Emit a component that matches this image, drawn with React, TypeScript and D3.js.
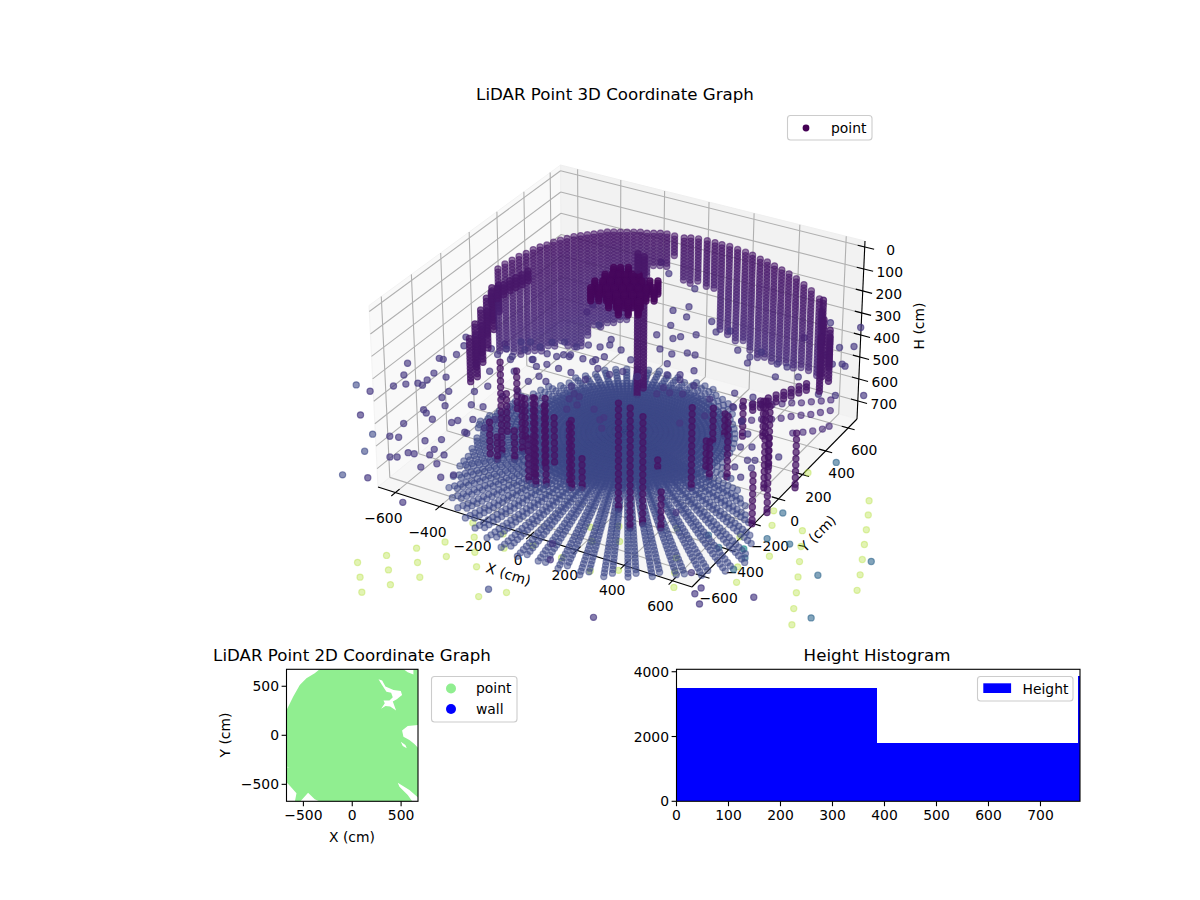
import React from "react";
import * as d3 from "d3";

// LiDAR scan, values. The scan is kept the way the
// instrument lays it out: wall columns and floor rays share typed row/ring lists,
// so the dense parts are an estimate of the pattern, not each individual dot.

const scanRows = [30, 45, 60, 75, 90, 105, 120, 135, 150, 165, 180, 195, 210, 225, 240, 255, 270, 285, 300, 315, 330, 345, 360, 375, 390, 405, 420, 435, 450, 465, 480, 495, 510, 525, 540, 555, 570, 585, 600, 615, 630, 645, 660, 675, 690, 705];
const strandRows = [40, 68, 96, 124, 152, 180, 208, 236, 264, 292, 320, 348, 376, 404, 432, 460, 488, 516, 544, 572, 600, 628, 656, 684, 700];

// [x, y, lowest H] of each wall column, top of the wall is at H 120
const wallColumns = [
  [-565, 19, 500], [-563, 67, 520], [-556, 108, 553], [-549, 148, 582], [-538, 183, 572], [-531, 224, 591], [-520, 257, 606], [-505, 284, 591], [-495, 318, 606], [-480, 345, 591], [-465, 371, 615], [-450, 398, 634], [-431, 418, 630], [-412, 438, 596], [-393, 457, 553], [-374, 477, 558], [-355, 497, 553], [-333, 510, 553], [-310, 522, 539], [-287, 535, 525], [-264, 548, 468], [-241, 561, 420], [-214, 566, 320], [-191, 579, 282], [-168, 592, 272], [-141, 598, 277], [-107, 598, 210], [-66, 602, 320], [-43, 615, 344], [-13, 623, 325], [25, 625, 330], [59, 626, 330], [91, 624, 510], [125, 625, 525], [164, 618, 549], [202, 612, 534], [237, 604, 568], [279, 589, 572], [314, 581, 558], [353, 566, 563], [393, 550, 544], [432, 535, 525], [475, 513, 525], [522, 484, 506], [569, 454, 491], [625, 411, 477],
];

const floorOrigin = [17, 10];
const floorRadii = [10, 30, 50, 70, 90, 110, 130, 150, 170, 190, 210, 230, 250, 270, 290, 310, 330, 350, 372, 394, 416, 438, 460, 484, 508, 532, 556, 580, 604, 628, 652, 676, 700, 724, 748, 772, 796, 820, 844, 868, 892, 916, 940, 964, 988, 1012];
// [azimuth in degrees, furthest radius reached]
const floorRays = [
  [-180, 520], [-175, 530], [-170, 540], [-165, 560], [-160, 580], [-155, 590], [-150, 570], [-145, 590], [-140, 610], [-135, 640], [-130, 680], [-125, 740], [-120, 780], [-115, 810], [-110, 830], [-105, 850], [-100, 870], [-95, 900], [-90, 920], [-85, 940], [-80, 960], [-75, 980], [-70, 1000], [-65, 1000], [-60, 1000], [-55, 1000], [-50, 1010], [-45, 1020], [-40, 1020], [-35, 1000], [-30, 900], [-25, 780], [-20, 680], [-15, 600], [-10, 520], [-5, 450], [0, 430], [5, 430], [10, 430], [15, 430], [20, 430], [25, 430], [30, 430], [35, 420], [40, 420], [45, 430], [50, 440], [55, 450], [60, 460], [65, 470], [70, 480], [75, 490], [80, 490], [85, 490], [90, 480], [95, 490], [100, 500], [105, 510], [110, 510], [115, 510], [120, 510], [125, 510], [130, 510], [135, 500], [140, 500], [145, 490], [150, 480], [155, 480], [160, 490], [165, 490], [170, 500], [175, 510],
  // second beam of each front streak, and the left side
  [-128.3, 660], [-123.3, 720], [-118.3, 760], [-113.3, 790], [-108.3, 810], [-103.3, 830], [-98.3, 860], [-93.3, 880], [-88.3, 900], [-83.3, 920], [-78.3, 940], [-73.3, 960], [-68.3, 980], [-63.3, 980], [-58.3, 980], [-53.3, 980], [-48.3, 990], [-43.3, 1000], [-38.3, 1000], [-33.3, 950], [-28.3, 850], [-23.3, 740], [-18.3, 650],
  [-177.5, 510], [-172.5, 520], [-167.5, 540], [-162.5, 560], [-157.5, 580], [-152.5, 570], [-147.5, 580], [-142.5, 600], [-137.5, 620], [-132.5, 660],
];
// extra rays between the ones above, near the centre only
const innerRays = [-127.5, -117.5, -107.5, -97.5, -87.5, -77.5, -67.5, -57.5, -47.5, -37.5, -27.5, -17.5, -7.5, 2.5, 12.5, 22.5, 32.5, 42.5, 52.5, 62.5, 72.5, 82.5, 92.5, 102.5, 112.5, 122.5, 132.5, 142.5, 152.5, 162.5, 172.5, -122.5, -112.5, -102.5, -92.5, -82.5, -72.5, -62.5, -52.5, -42.5, -32.5, -22.5, -12.5, -2.5, 7.5, 17.5, 27.5, 37.5, 47.5, 57.5, 67.5, 77.5, 87.5, 97.5, 107.5, 117.5, 127.5, 137.5, 147.5, 157.5, 167.5, 177.5];
const innerReach = 400;

// [x, y, top H, bottom H] of the dark vertical runs
const strands = [
  [358, -564, 180, 700], [258, -475, 211, 700], [383, -515, 211, 700], [456, -508, 536, 700], [419, -210, 345, 700], [500, -77, 410, 700], [31, -431, 402, 700], [65, -412, 553, 700], [-130, -436, 345, 700], [-134, -352, 411, 700], [-327, -351, 282, 700], [-267, -299, 433, 700], [731, -317, 478, 700], [744, -223, 376, 700], [756, -18, 447, 700], [442, -110, 522, 700], [411, 217, 522, 700], [479, 256, 522, 700],
  [-64, -459, 313, 700], [-98, -478, 313, 700], [-318, -397, 598, 700], [-261, -365, 567, 700], [-136, -466, 496, 700], [-314, -257, 372, 550], [336, 114, 544, 700], [351, 183, 580, 700], [406, -71, 553, 700], [248, -161, 629, 700], [13, -415, 416, 700], [655, -76, 313, 700], [601, 67, 420, 700],
  [-333, -302, 450, 650], [-253, -299, 450, 650], [-301, -474, 463, 650], [-59, -405, 428, 650],
];
// thick runs, scanned densely
const bands = [
  [-90, 276, 45, 700], [-70, 290, 60, 660],
  [-679, 149, 294, 450], [-637, 43, 272, 450], [-575, -95, 250, 450], [-534, -200, 250, 450], [-491, -306, 250, 450], [-696, 225, 317, 450], [-634, 87, 294, 450], [-574, -51, 272, 450], [-531, -156, 272, 450], [-489, -262, 272, 450],
  [-455, 61, 120, 165], [-459, 23, 120, 165], [-467, -9, 120, 165], [-474, -41, 120, 165], [-478, -80, 120, 165], [-482, -119, 120, 165], [-484, -158, 120, 165],
  [539, 627, 250, 450], [657, 391, 183, 450], [695, 370, 250, 450], [698, 286, 206, 450], [552, 590, 272, 450], [646, 472, 272, 450],
  [496, 593, 630, 660], [480, 559, 630, 660], [464, 523, 630, 660], [449, 489, 630, 660], [433, 454, 630, 660], [417, 419, 630, 660], [401, 384, 630, 660], [385, 350, 630, 660],
];

const blobHeights = [135, 145, 155, 165, 175, 185, 195];
const blobPoints = [[-196, 273], [-173, 286], [-146, 301], [-197, 208], [-174, 221], [-151, 234], [-128, 247], [-105, 260], [-82, 272], [-203, 141], [-177, 156], [-151, 171], [-124, 186], [-98, 200], [-71, 215], [-45, 230], [-19, 245], [8, 260], [-189, 86], [-162, 101], [-136, 115], [-109, 130], [-83, 145], [-57, 160], [-30, 175], [-4, 189], [23, 204], [-101, 71], [-75, 86], [-48, 101], [-22, 116], [4, 130], [-41, 41], [-8, 59], [25, 78]];

const floorArcs = [[273, 397], [303, 423], [333, 448], [367, 468], [400, 487], [431, 513], [461, 538], [494, 557], [524, 584], [555, 609], [584, 635], [356, 315], [386, 341], [416, 367], [450, 386], [479, 411], [506, 443], [536, 470], [566, 495], [592, 527], [619, 559], [569, 333], [600, 359], [629, 385], [655, 417], [668, 449]];

// stray returns in the air, H about 500
const midAirPoints = [[-746, 55], [-715, -8], [-744, -141], [-726, -140], [-702, -82], [-830, -235], [-791, -319], [-698, -249], [-640, -252], [-691, -307], [-745, -374], [-709, -345], [-685, -349], [-778, -410], [-834, -487], [-720, 87], [-580, -728], [-547, -718], [-448, -690], [-399, -653], [-496, -851], [-473, -838], [-455, -792], [-431, -788], [-377, -766], [-384, -725], [-331, -740], [-320, -805], [-358, -854], [-256, -877], [-224, -841], [-578, -503], [-556, -518], [-510, -546], [-524, -437], [-434, -530], [-353, -565], [-422, -506], [-571, -339], [-568, -391], [678, -1370], [-281, -1087], [371, -1143], [906, -1078], [949, -1124], [1090, -998], [908, -1037], [834, -971], [325, -1052], [603, -662], [-764, -653], [-587, -625], [-485, -1011], [823, 417], [579, 898], [624, 744], [578, 709], [457, 874], [645, 595], [662, 586], [-99, 713], [-66, 633], [-153, 861], [-387, 998], [-310, 925], [-140, 654], [-87, 540], [-98, 445], [-8, 478], [38, 522], [-27, 450], [-30, 350], [30, 338], [79, 375], [113, 376], [52, 262], [169, 265], [137, 211], [40, 649], [96, 581], [142, 616], [240, 493], [307, 468], [321, 421], [328, 524], [425, 471], [469, 469], [542, 421], [465, 378], [612, 576], [559, 627], [422, 711], [729, 364], [669, 340], [-446, 536], [-435, 471], [-337, 400], [-236, 323], [-352, 98], [-420, 32], [-396, 99], [-309, 122], [-331, -69], [-207, 152], [-162, -2], [-182, -75], [-497, -11], [-582, 84], [-159, 268], [-87, 219],
  [-489, 83], [-423, 30], [-380, -8], [-336, 124], [-312, 137], [-254, 134], [-209, 133], [-189, 189], [-239, 18], [-287, -90], [-462, -232], [-485, -291], [-441, -382], [-394, -373], [-303, -430], [-377, -471], [-342, -568], [-306, -502], [-144, -117], [-116, -127], [-141, -160], [-91, -185], [-19, -180], [40, -237], [45, -216], [77, -287], [-109, -231],
  [156, 176], [94, 186], [130, 91], [170, 69], [217, 86], [225, 163], [326, 103], [131, 38], [313, -110], [369, -17], [387, 190], [462, 197], [434, 92], [508, 17], [572, -55], [747, -144], [592, -151], [629, -130], [639, -285], [658, -221], [682, -208], [691, -337], [696, -262],
  [-608, 25], [-562, -2], [-558, 54], [-504, 13], [-535, 129], [-502, 147], [-449, 132], [-428, 188], [-385, 213], [-323, 203], [-291, 239], [-243, 248], [-218, 281], [-297, 21], [-353, 26], [-164, 96], [-101, 78], [-68, 123], [1, 117], [-340, -209], [-346, -123], [-371, -270], [-435, -83], [-518, -130], [-610, -47],
];

// returns below the floor, H about 700 (slate), 740 (blue), 780 (teal), 900 (green)
const slateReturns = [[122, -1157], [-768, -782], [-793, -599], [-839, -478], [-1113, -194]];
const blueReturns = [[782, 281], [768, -140], [797, -323], [885, -315], [786, -476], [785, -562], [672, -463], [600, -409], [1064, -446], [1191, -271], [1162, -697]];
const tealReturns = [[727, -371]];
const greenReturns = [[-559, -1000], [-495, -1076], [-433, -1154], [-492, -907], [-431, -984], [-370, -1061], [-422, -810], [-365, -889], [-303, -967], [-352, -722], [-294, -802], [-333, -558], [-275, -639], [-217, -725], [-159, -804], [-47, -965], [27, -892], [-192, -566], [-137, -647], [-53, -577], [83, -595], [221, -619], [309, -563], [70, -362], [125, -444], [160, -302], [215, -392], [609, 398], [903, 331], [944, 237], [982, 140], [1019, 45], [1056, -51], [1093, -147], [1127, -244], [776, 15], [820, -85], [861, -179], [902, -273], [943, -368], [980, -463], [1020, -557], [619, 85], [660, -9], [748, -202], [592, -140], [679, -324], [723, -416], [495, -472], [540, -559], [358, -206], [453, -384]];

const xTicks3d = [-600, -400, -200, 0, 200, 400, 600];
const yTicks3d = [-600, -400, -200, 0, 200, 400, 600];
const hTicks3d = [0, 100, 200, 300, 400, 500, 600, 700];

// 2D panel: footprint of the scatter, outline and holes in cm
const coverageOutline = [[-326, 680], [517, 680], [568, 643], [626, 619], [626, 680], [680, 680], [680, 105], [568, 95], [510, 48], [524, -14], [585, -48], [636, -88], [680, -133], [680, -640], [585, -558], [466, -483], [483, -524], [568, -609], [619, -680], [-320, -680], [-384, -653], [-452, -585], [-537, -680], [-588, -680], [-571, -592], [-639, -514], [-680, -473], [-680, -320], [-639, -337], [-680, -313], [-680, 241], [-605, 394], [-537, 513], [-469, 581], [-384, 632]];
const coverageHoles = [
  [[269, 571], [306, 558], [340, 497], [422, 463], [497, 452], [510, 412], [456, 367], [415, 344], [449, 252], [388, 293], [340, 299], [296, 272], [333, 327], [320, 354], [381, 354], [415, 388], [398, 435], [350, 445], [300, 520]],
  [[497, -65], [544, -99], [558, -133], [517, -109]],
];
const ticks2d = [-500, 0, 500];

const histEdges = [0, 386, 772, 1158];
const histCounts = [3490, 1815, 3880];
const histXTicks = [0, 100, 200, 300, 400, 500, 600, 700];
const histYTicks = [0, 2000, 4000];

const quad = (p: number[][]) => {
  const [[x0, y0], [x1, y1], [x2, y2], [x3, y3]] = p;
  const dx1 = x1 - x2, dx2 = x3 - x2, sx = x0 - x1 + x2 - x3;
  const dy1 = y1 - y2, dy2 = y3 - y2, sy = y0 - y1 + y2 - y3;
  const den = dx1 * dy2 - dx2 * dy1;
  const g = (sx * dy2 - dx2 * sy) / den;
  const h = (dx1 * sy - sx * dy1) / den;
  const a = x1 - x0 + g * x1, b = x3 - x0 + h * x3;
  const d = y1 - y0 + g * y1, e = y3 - y0 + h * y3;
  return (u: number, v: number) => {
    const w = g * u + h * v + 1;
    return [(a * u + b * v + x0) / w, (d * u + e * v + y0) / w];
  };
};

const floorFace = quad([[378, 487], [692, 587], [857, 419], [562, 337]]);
const topFace = quad([[369, 305.5], [694, 397], [865, 241], [560.5, 165]]);
const u3 = d3.scaleLinear([-680, 680], [0, 1]);
const v3 = d3.scaleLinear([-680, 680], [0, 1]);
const t3 = d3.scaleLinear([-27, 782], [1, 0]);

const project = (x: number, y: number, h: number) => {
  const b = floorFace(u3(x), v3(y));
  const a = topFace(u3(x), v3(y));
  const t = t3(h);
  return [b[0] + (a[0] - b[0]) * t, b[1] + (a[1] - b[1]) * t];
};

const toneOf = d3.scaleLinear([0, 700, 740, 780, 900], [0, 0.22, 0.33, 0.5, 0.88]);

type Dot = { x: number; y: number; h: number; tone: number; alpha: number };
const dot = (x: number, y: number, h: number, alpha: number, tone?: number): Dot => ({
  x, y, h, alpha, tone: tone === undefined ? toneOf(h) : tone,
});
const polar = (az: number, r: number) => dot(
  floorOrigin[0] + r * Math.cos((az * Math.PI) / 180),
  floorOrigin[1] + r * Math.sin((az * Math.PI) / 180),
  700, 0.52);
const nearness = (d: Dot) => 0.433 * d.x - 0.75 * d.y - 0.64 * d.h;

const cloud: Dot[] = [
  ...wallColumns.flatMap(([x, y, low]) => scanRows.filter((h) => h >= 120 && h <= low).map((h) => dot(x, y, h, 0.58, 0.04 + toneOf(h) * 0.5))),
  ...floorRays.flatMap(([az, reach]) => floorRadii.filter((r) => r <= reach).map((r) => polar(az, r))),
  ...innerRays.flatMap((az) => floorRadii.filter((r) => r <= innerReach).map((r) => polar(az, r))),
  ...strands.flatMap(([x, y, top, low]) => strandRows.filter((h) => h >= top && h <= low).map((h) => dot(x, y, h, 0.72, 0.05))),
  ...bands.flatMap(([x, y, top, low]) => scanRows.filter((h) => h >= top && h <= low).map((h) => dot(x, y, h, 0.72, 0.06))),
  ...blobPoints.flatMap(([x, y]) => blobHeights.map((h) => dot(x, y, h, 0.8, 0.02))),
  ...floorArcs.map(([x, y]) => dot(x, y, 700, 0.6, 0.12)),
  ...midAirPoints.map(([x, y]) => dot(x, y, 500, 0.65)),
  ...slateReturns.map(([x, y]) => dot(x, y, 700, 0.6)),
  ...blueReturns.map(([x, y]) => dot(x, y, 740, 0.6)),
  ...tealReturns.map(([x, y]) => dot(x, y, 780, 0.6)),
  ...greenReturns.map(([x, y]) => dot(x, y, 900, 0.36)),
].sort((p, q) => nearness(p) - nearness(q));

const ink = "#000";
const gridColor = "#b0b0b0";
const fontSize = 13.9;

const seg = (a: number[], b: number[]) => `M${a[0]},${a[1]}L${b[0]},${b[1]}`;
const minus = (t: number) => d3.format("d")(t).replace("-", "\u2212");

const Legend = ({ x, y, w, h }: any) => (
  <rect x={x} y={y} width={w} height={h} rx={3} fill="#fff" fillOpacity={0.8} stroke="#ccc" strokeWidth={1.1} />
);

export default function App() {
  const xLo = -680, xHi = 680, yLo = -680, yHi = 680, hTop = -27, hLow = 782;

  // 2D panel
  const x2 = d3.scaleLinear([-673, 673], [286.5, 418]);
  const y2 = d3.scaleLinear([-673, 673], [801.3, 669.3]);
  const ring = d3.line<number[]>().x((d) => x2(d[0])).y((d) => y2(d[1])).curve(d3.curveLinearClosed);
  const coveragePath = [coverageOutline, ...coverageHoles].map((r) => ring(r)).join("");

  // histogram panel
  const xh = d3.scaleLinear([0, 776], [676.5, 1080]);
  const yh = d3.scaleLinear([0, 4075], [801.3, 669.3]);

  return (
    <svg width={1200} height={900} viewBox="0 0 1200 900" style={{ position: "absolute", top: 0, left: 0, display: "block" }} fontFamily="'DejaVu Sans'" fontSize={fontSize} fill={ink}>
      <rect width={1200} height={900} fill="#fff" />
      <defs>
        <clipPath id="clip2d"><rect x={286.5} y={669.3} width={131.5} height={132} /></clipPath>
        <clipPath id="cliphist"><rect x={676.5} y={669.3} width={403.5} height={132} /></clipPath>
      </defs>

      {/* 3D panes */}
      <path d={`M${project(xLo, yLo, hLow)}L${project(xLo, yHi, hLow)}L${project(xLo, yHi, hTop)}L${project(xLo, yLo, hTop)}Z`} fill="#f9f9f9" stroke="#f3f3f3" />
      <path d={`M${project(xLo, yHi, hLow)}L${project(xHi, yHi, hLow)}L${project(xHi, yHi, hTop)}L${project(xLo, yHi, hTop)}Z`} fill="#f2f2f2" stroke="#efefef" />
      <path d={`M${project(xLo, yLo, hLow)}L${project(xHi, yLo, hLow)}L${project(xHi, yHi, hLow)}L${project(xLo, yHi, hLow)}Z`} fill="#f6f6f6" stroke="#f1f1f1" />

      {/* 3D grid */}
      <g fill="none" stroke={gridColor} strokeWidth={1.1}>
        {xTicks3d.map((t) => (
          <path key={`gx${t}`} d={seg(project(t, yLo, hLow), project(t, yHi, hLow)) + seg(project(t, yHi, hLow), project(t, yHi, hTop))} />
        ))}
        {yTicks3d.map((t) => (
          <path key={`gy${t}`} d={seg(project(xHi, t, hLow), project(xLo, t, hLow)) + seg(project(xLo, t, hLow), project(xLo, t, hTop))} />
        ))}
        {hTicks3d.map((t) => (
          <path key={`gh${t}`} d={seg(project(xLo, yLo, t), project(xLo, yHi, t)) + seg(project(xLo, yHi, t), project(xHi, yHi, t))} />
        ))}
      </g>

      {/* 3D axes */}
      <g fill="none" stroke={ink} strokeWidth={1.1}>
        <path d={seg(project(xLo, yLo, hLow), project(xHi, yLo, hLow))} />
        <path d={seg(project(xHi, yLo, hLow), project(xHi, yHi, hLow))} />
        <path d={seg(project(xHi, yHi, hLow), project(xHi, yHi, hTop))} />
        {xTicks3d.map((t) => <path key={`tx${t}`} d={seg(project(t, yLo - 28, hLow), project(t, yLo + 28, hLow))} />)}
        {yTicks3d.map((t) => <path key={`ty${t}`} d={seg(project(xHi - 28, t, hLow), project(xHi + 28, t, hLow))} />)}
        {hTicks3d.map((t) => <path key={`th${t}`} d={seg(project(xHi - 30, yHi, t), project(xHi + 40, yHi, t))} />)}
      </g>
      <g textAnchor="middle">
        {xTicks3d.map((t) => {
          const p = project(t, yLo, hLow);
          return <text key={`lx${t}`} x={p[0] - 12} y={p[1] + 30}>{minus(t)}</text>;
        })}
        {yTicks3d.map((t) => {
          const p = project(xHi, t, hLow);
          return <text key={`ly${t}`} x={p[0] + 16} y={p[1] + 27}>{minus(t)}</text>;
        })}
        {hTicks3d.map((t) => {
          const p = project(xHi, yHi, t);
          return <text key={`lh${t}`} x={p[0] + 26} y={p[1] + 8}>{t}</text>;
        })}
        <text transform="translate(507,579) rotate(17.7)">X (cm)</text>
        <text transform="translate(821,537) rotate(-45)">Y (cm)</text>
        <text transform="translate(924,326) rotate(-90)">H (cm)</text>
        <text x={615} y={100} fontSize={16.67}>LiDAR Point 3D Coordinate Graph</text>
      </g>

      {/* point cloud */}
      <g>
        {cloud.map((d, i) => {
          const p = project(d.x, d.y, d.h);
          const c = d3.interpolateViridis(d.tone);
          return <circle key={i} cx={p[0]} cy={p[1]} r={3.1} fill={c} stroke={c} strokeWidth={1.2} fillOpacity={d.alpha} strokeOpacity={d.alpha} />;
        })}
      </g>

      {/* 3D legend */}
      <Legend x={787.5} y={115.5} w={84.5} h={24.5} />
      <circle cx={806} cy={128} r={3.4} fill={d3.interpolateViridis(0)} />
      <text x={831} y={132.5}>point</text>

      {/* 2D panel */}
      <path d={coveragePath} fill="#90ee90" fillRule="evenodd" clipPath="url(#clip2d)" />
      <rect x={286.5} y={669.3} width={131.5} height={132} fill="none" stroke={ink} strokeWidth={1.1} />
      {ticks2d.map((t) => (
        <g key={`x2${t}`}>
          <line x1={x2(t)} x2={x2(t)} y1={801.3} y2={806.2} stroke={ink} strokeWidth={1.1} />
          <text x={x2(t)} y={820} textAnchor="middle">{minus(t)}</text>
          <line x1={281.6} x2={286.5} y1={y2(t)} y2={y2(t)} stroke={ink} strokeWidth={1.1} />
          <text x={279} y={y2(t) + 5} textAnchor="end">{minus(t)}</text>
        </g>
      ))}
      <text x={352} y={661} textAnchor="middle" fontSize={16.67}>LiDAR Point 2D Coordinate Graph</text>
      <text x={352} y={842} textAnchor="middle">X (cm)</text>
      <text transform="translate(230,735) rotate(-90)" textAnchor="middle">Y (cm)</text>
      <Legend x={431.5} y={676.5} w={85.5} h={45.5} />
      <circle cx={451} cy={688.5} r={5} fill="#90ee90" />
      <circle cx={451} cy={709} r={5} fill="#0000ff" />
      <text x={476} y={693}>point</text>
      <text x={476} y={713.5}>wall</text>

      {/* histogram panel */}
      <g clipPath="url(#cliphist)" shapeRendering="crispEdges">
        {histCounts.map((c, i) => (
          <rect key={i} x={xh(histEdges[i])} y={yh(c)} width={xh(histEdges[i + 1]) - xh(histEdges[i])} height={yh(0) - yh(c)} fill="#0000ff" />
        ))}
      </g>
      <rect x={676.5} y={669.3} width={403.5} height={132} fill="none" stroke={ink} strokeWidth={1.1} />
      {histXTicks.map((t) => (
        <g key={`xh${t}`}>
          <line x1={xh(t)} x2={xh(t)} y1={801.3} y2={806.2} stroke={ink} strokeWidth={1.1} />
          <text x={xh(t)} y={820} textAnchor="middle">{t}</text>
        </g>
      ))}
      {histYTicks.map((t) => (
        <g key={`yh${t}`}>
          <line x1={671.6} x2={676.5} y1={yh(t)} y2={yh(t)} stroke={ink} strokeWidth={1.1} />
          <text x={669} y={yh(t) + 5} textAnchor="end">{t}</text>
        </g>
      ))}
      <text x={877} y={661} textAnchor="middle" fontSize={16.67}>Height Histogram</text>
      <Legend x={977.5} y={676.5} w={95.5} h={24.5} />
      <rect x={983.3} y={683.3} width={27.8} height={9.7} fill="#0000ff" />
      <text x={1022.5} y={693.5}>Height</text>
    </svg>
  );
}
